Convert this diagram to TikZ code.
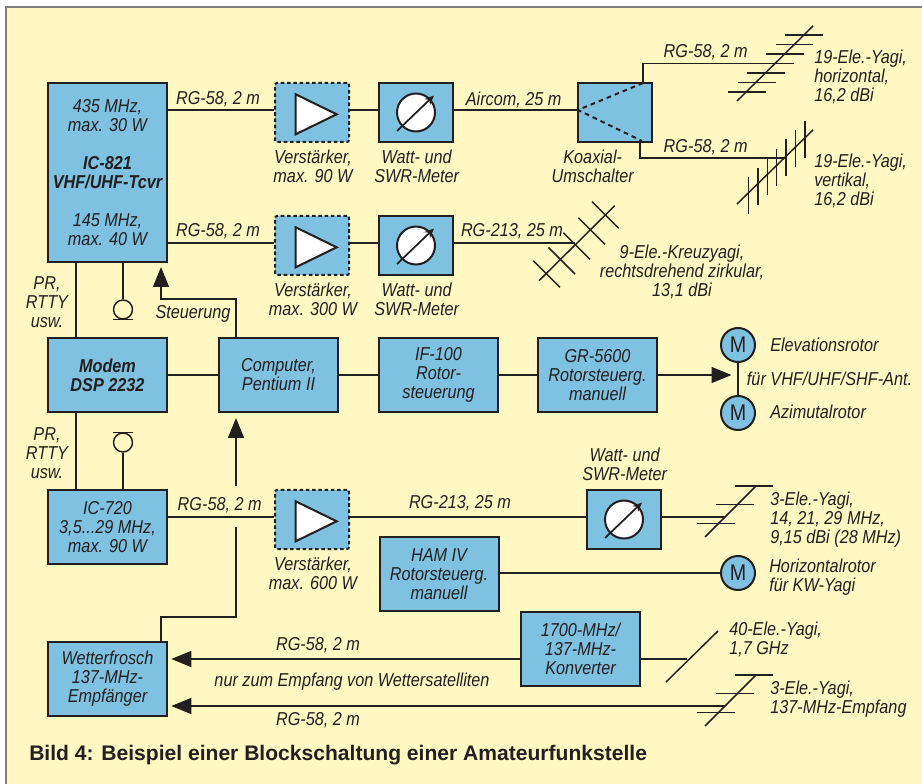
\documentclass[tikz,border=0pt]{standalone}
\usepackage{fontspec}
\setmainfont{Liberation Sans}
\newfontfamily\lblfont{Liberation Sans}[FakeStretch=0.87]
\usepackage{xcolor}
\usetikzlibrary{arrows.meta,positioning,calc}
\definecolor{paper}{HTML}{FFF8C2}
\definecolor{boxblue}{HTML}{7FC1E1}
\definecolor{ink}{HTML}{231F20}
\begin{document}
\begin{tikzpicture}[x=0.75pt, y=-0.75pt,
        block/.style={draw=ink, line width=1.5pt, fill=boxblue, text=ink, minimum width=89.25pt, minimum height=55.5pt, align=center, inner sep=0pt, font=\lblfont\itshape\fontsize{14}{14.25}\selectfont},
        tallblock/.style={block, minimum height=134.25pt},
        small/.style={block, minimum width=55.5pt, minimum height=44.25pt},
        ampbox/.style={small, dash pattern=on 2.7pt off 2pt, rounded corners=1.5pt},
        motor/.style={draw=ink, line width=1.5pt, fill=boxblue, circle, minimum size=25.5pt, inner sep=0pt, text=ink, font=\lblfont\fontsize{17}{17}\selectfont},
        mic/.style={draw=ink, line width=1.1pt, circle, minimum size=14.25pt, inner sep=0pt},
        lbl/.style={text=ink, align=center, inner sep=0pt, font=\lblfont\itshape\fontsize{14}{14.25}\selectfont},
        leftlbl/.style={lbl, align=left, anchor=west},
        wire/.style={draw=ink, line width=1.1pt},
        arrow/.style={wire, -{Triangle[length=15pt,width=12pt]}}
    ]
        \useasboundingbox (0,0) rectangle (922,784);
        \fill[paper] (6,7) rectangle (922,784);
        \draw[gray, line width=0.8pt] (6,784) -- (6,7) -- (922,7);

        % Transceiver und Endstufen
        \node[tallblock] (rig) at (107.5,172.5) {435 MHz,\\max. 30 W\\[14.25pt]\textbf{IC-821}\\\textbf{VHF/UHF-Tcvr}\\[14.25pt]145 MHz,\\max. 40 W};
        \node[ampbox, right=79.5pt of rig.north east, anchor=north west] (amp1) {};
        \node[small, right=21pt of amp1] (meter1) {};
        \node[small, right=92.25pt of meter1] (switch) {};
        \node[ampbox, below=54pt of amp1] (amp2) {};
        \node[small, right=21pt of amp2] (meter2) {};

        % Rechner und Rotoren
        \node[block, below=55.5pt of rig] (modem) {\textbf{Modem}\\\textbf{DSP 2232}};
        \node[block, right=37.5pt of modem] (comp) {Computer,\\Pentium II};
        \node[block, right=29.25pt of comp] (ifrotor) {IF-100\\Rotor-\\steuerung};
        \node[block, right=28.5pt of ifrotor] (gr) {GR-5600\\Rotorsteuerg.\\manuell};
        \node[motor] (elev) at (738,345) {M};
        \node[motor, below=24pt of elev] (azim) {M};

        % Kurzwelle
        \node[block, below=57pt of modem] (hf) {IC-720\\3,5...29 MHz,\\max. 90 W};
        \node[ampbox, right=79.5pt of hf.north east, anchor=north west] (amp3) {};
        \node[small, right=177pt of amp3] (meter3) {};
        \node[block] (ham) at (439,574) {HAM IV\\Rotorsteuerg.\\manuell};
        \node[motor] (horiz) at (738,573) {M};

        % Wettersatelliten
        \node[block, below=57pt of hf] (wx) {Wetterfrosch\\137-MHz-\\Empfänger};
        \node[block] (conv) at (580.5,649) {1700-MHz/\\137-MHz-\\Konverter};

        % Symbole in den Kästen
        \foreach \n in {amp1,amp2,amp3}
            \draw[draw=ink, line width=1.5pt, fill=white] ($(\n)+(-16.3,-18.2)$) -- ($(\n)+(-16.3,21.8)$) -- ($(\n)+(24.7,1.8)$) -- cycle;
        \foreach \n in {meter1,meter2,meter3} {
            \draw[draw=ink, line width=1.5pt, fill=white] (\n) circle[radius=14.25pt];
            \draw[wire, line width=1.3pt, -{Stealth[length=7pt,width=6pt]}] ($(\n)+(-19,18.5)$) -- ($(\n)+(18,-17)$);
        }
        \draw[draw=ink, line width=1.5pt, dash pattern=on 3.5pt off 3pt] (643,83) -- (578,110) -- (642,141);

        % Antennen
        \foreach \i in {0,...,6} {
            \draw[wire] ({785-9.43*\i},{35+9.47*\i}) -- ++(37.7,0);
            \draw[wire] ({805-9.43*\i},{120.7+9.4*\i}) -- ++(0,37);
        }
        \draw[wire] (737,101) -- (813,26);
        \draw[wire] (737,204) -- (813,130);
        \draw[wire] (539,280.7) -- (614.7,205.7);
        \foreach \x/\y in {546.7/274,561.7/260.7,576.7/246,591.7/231,605.3/215}
            \draw[wire] ({\x-13.3},{\y-13.3}) -- ({\x+13.3},{\y+13.3});
        \foreach \y in {486,675} {
            \draw[wire] (705,{\y+51}) -- (756,\y);
            \draw[wire] (735,\y) -- ++(37.5,0);
            \draw[wire] (716,{\y+18.7}) -- ++(37.5,0);
            \draw[wire] (697,{\y+37.3}) -- ++(37.5,0);
        }
        \draw[wire] (666,682) -- (718,631);

        % Freie Enden
        \coordinate (yagih) at (785,63.5);
        \coordinate (yagiv) at (785,158);
        \coordinate (swtop) at (643,82);
        \coordinate (swlow) at (640,143);
        \coordinate (cross) at (575,243);
        \coordinate (hfyagi) at (725,517);
        \coordinate (lyagi) at (687,659);
        \coordinate (wxyagi) at (725,706);
        \coordinate (ctl) at (236,299);
        \coordinate (rigin) at (161,267);
        \coordinate (wxup) at (161,617);
        \coordinate (compup) at (236,617);
        \coordinate (gaplow) at (236,527);
        \coordinate (gaphigh) at (236,486);
        \coordinate (compin) at (236,418);
        \coordinate (dataline) at (76,375);
        \coordinate (rotorin) at (731.5,375);
        \coordinate (wa1) at ([yshift=1.9pt]amp1.west);
        \coordinate (wb1) at ([yshift=1.9pt]amp1.east);
        \coordinate (wa2) at ([yshift=1.9pt]amp2.west);
        \coordinate (wb2) at ([yshift=1.9pt]amp2.east);
        \coordinate (wa3) at ([yshift=1.9pt]amp3.west);
        \coordinate (wb3) at ([yshift=1.9pt]amp3.east);

        % Verbindungen
        \draw[wire] (rig.east |- wa1) -- (wa1);
        \draw[wire] (wb1) -- (wb1 -| meter1.west);
        \draw[wire] (wb1 -| meter1.east) -- (wb1 -| switch.west);
        \draw[wire] (rig.east |- wa2) -- (wa2);
        \draw[wire] (wb2) -- (wb2 -| meter2.west);
        \draw[wire] (wb2 -| meter2.east) -- (wb2 -| cross);
        \draw[wire] (swtop) |- (yagih);
        \draw[wire] (swlow) |- (yagiv);

        \draw[wire] (rig.south -| dataline) -- (modem.north -| dataline);
        \draw[wire] (modem.south -| dataline) -- (hf.north -| dataline);
        \draw[wire] (modem) -- (comp);
        \draw[wire] (comp) -- (ifrotor);
        \draw[wire] (ifrotor) -- (gr);
        \draw[arrow] (gr) -- (gr -| rotorin);
        \draw[wire] (elev) -- (azim);

        \node[mic] (mic1) at (123,309.5) {};
        \node[mic] (mic2) at (123,442.5) {};
        \draw[wire] (rig.south -| mic1) -- (mic1);
        \draw[wire] ([xshift=-7.5pt]mic1.south) -- ([xshift=7.5pt]mic1.south);
        \draw[wire] (hf.north -| mic2) -- (mic2);
        \draw[wire] ([xshift=-7.5pt]mic2.north) -- ([xshift=7.5pt]mic2.north);

        \draw[arrow] (ctl |- comp.north) -- (ctl) -| (rigin);
        \draw[wire] (wxup |- wx.north) -- (wxup) -- (compup) -- (gaplow);
        \draw[arrow] (gaphigh) -- (compin);

        \draw[wire] (hf.east |- wa3) -- (wa3);
        \draw[wire] (wb3) -- (wb3 -| meter3.west);
        \draw[wire] (wb3 -| meter3.east) -- (wb3 -| hfyagi);
        \draw[wire] (ham.east |- horiz) -- (horiz);
        \draw[wire] (conv.east |- lyagi) -- (lyagi);
        \draw[arrow, shorten >=2.5pt] (conv.west |- lyagi) -- (wx.east |- lyagi);
        \draw[arrow, shorten >=2.5pt] (wxyagi) -- (wx.east |- wxyagi);

        % Beschriftungen
        \node[lbl] (l1) at (218,99.5) {RG-58, 2 m};
        \node[lbl] (l2) at (218,231.5) {RG-58, 2 m};
        \node[lbl] (l3) at (513.7,99.5) {Aircom, 25 m};
        \node[lbl] (l4) at (512,231.5) {RG-213, 25 m};
        \node[lbl] (l5) at (705.7,52) {RG-58, 2 m};
        \node[lbl] (l6) at (705.7,147) {RG-58, 2 m};
        \node[lbl] (l7) at (219.7,505.5) {RG-58, 2 m};
        \node[lbl] (l8) at (460,503.5) {RG-213, 25 m};
        \node[lbl] (l9) at (318,645.5) {RG-58, 2 m};
        \node[lbl] (l10) at (318,720) {RG-58, 2 m};
        \node[lbl] (l11) at (352,682) {nur zum Empfang von Wettersatelliten};

        \node[lbl] (v1) at (313,166.5) {Verstärker,\\max. 90 W};
        \node[lbl] (v2) at (313,299.5) {Verstärker,\\max. 300 W};
        \node[lbl] (v3) at (313,573) {Verstärker,\\max. 600 W};
        \node[lbl] (m1) at (416.7,166.5) {Watt- und\\SWR-Meter};
        \node[lbl] (m2) at (416.7,299.5) {Watt- und\\SWR-Meter};
        \node[lbl] (m3) at (624.7,464) {Watt- und\\SWR-Meter};
        \node[lbl] (k1) at (592.7,166.5) {Koaxial-\\Umschalter};
        \node[lbl] (pr1) at (47,302) {PR,\\RTTY\\usw.};
        \node[lbl] (pr2) at (47,453) {PR,\\RTTY\\usw.};
        \node[lbl] (st1) at (193,314) {Steuerung};

        \node[leftlbl] (a1) at (814,77) {19-Ele.-Yagi,\\horizontal,\\16,2 dBi};
        \node[leftlbl] (a2) at (814,181) {19-Ele.-Yagi,\\vertikal,\\16,2 dBi};
        \node[lbl] (a3) at (682,272) {9-Ele.-Kreuzyagi,\\rechtsdrehend zirkular,\\13,1 dBi};
        \node[leftlbl] (a4) at (770,520) {3-Ele.-Yagi,\\14, 21, 29 MHz,\\9,15 dBi (28 MHz)};
        \node[leftlbl] (a5) at (729,639.5) {40-Ele.-Yagi,\\1,7 GHz};
        \node[leftlbl] (a6) at (770,699.5) {3-Ele.-Yagi,\\137-MHz-Empfang};

        \node[leftlbl] (r1) at (770,345) {Elevationsrotor};
        \node[leftlbl] (r2) at (746.7,379) {für VHF/UHF/SHF-Ant.};
        \node[leftlbl] (r3) at (770,411.5) {Azimutalrotor};
        \node[leftlbl] (r4) at (769,577) {Horizontalrotor\\für KW-Yagi};

        \node[anchor=west, inner sep=0pt, text=ink, font=\bfseries\fontsize{15.8}{16}\selectfont] (title) at (29,755.5) {Bild 4: Beispiel einer Blockschaltung einer Amateurfunkstelle};
    \end{tikzpicture}
\end{document}
